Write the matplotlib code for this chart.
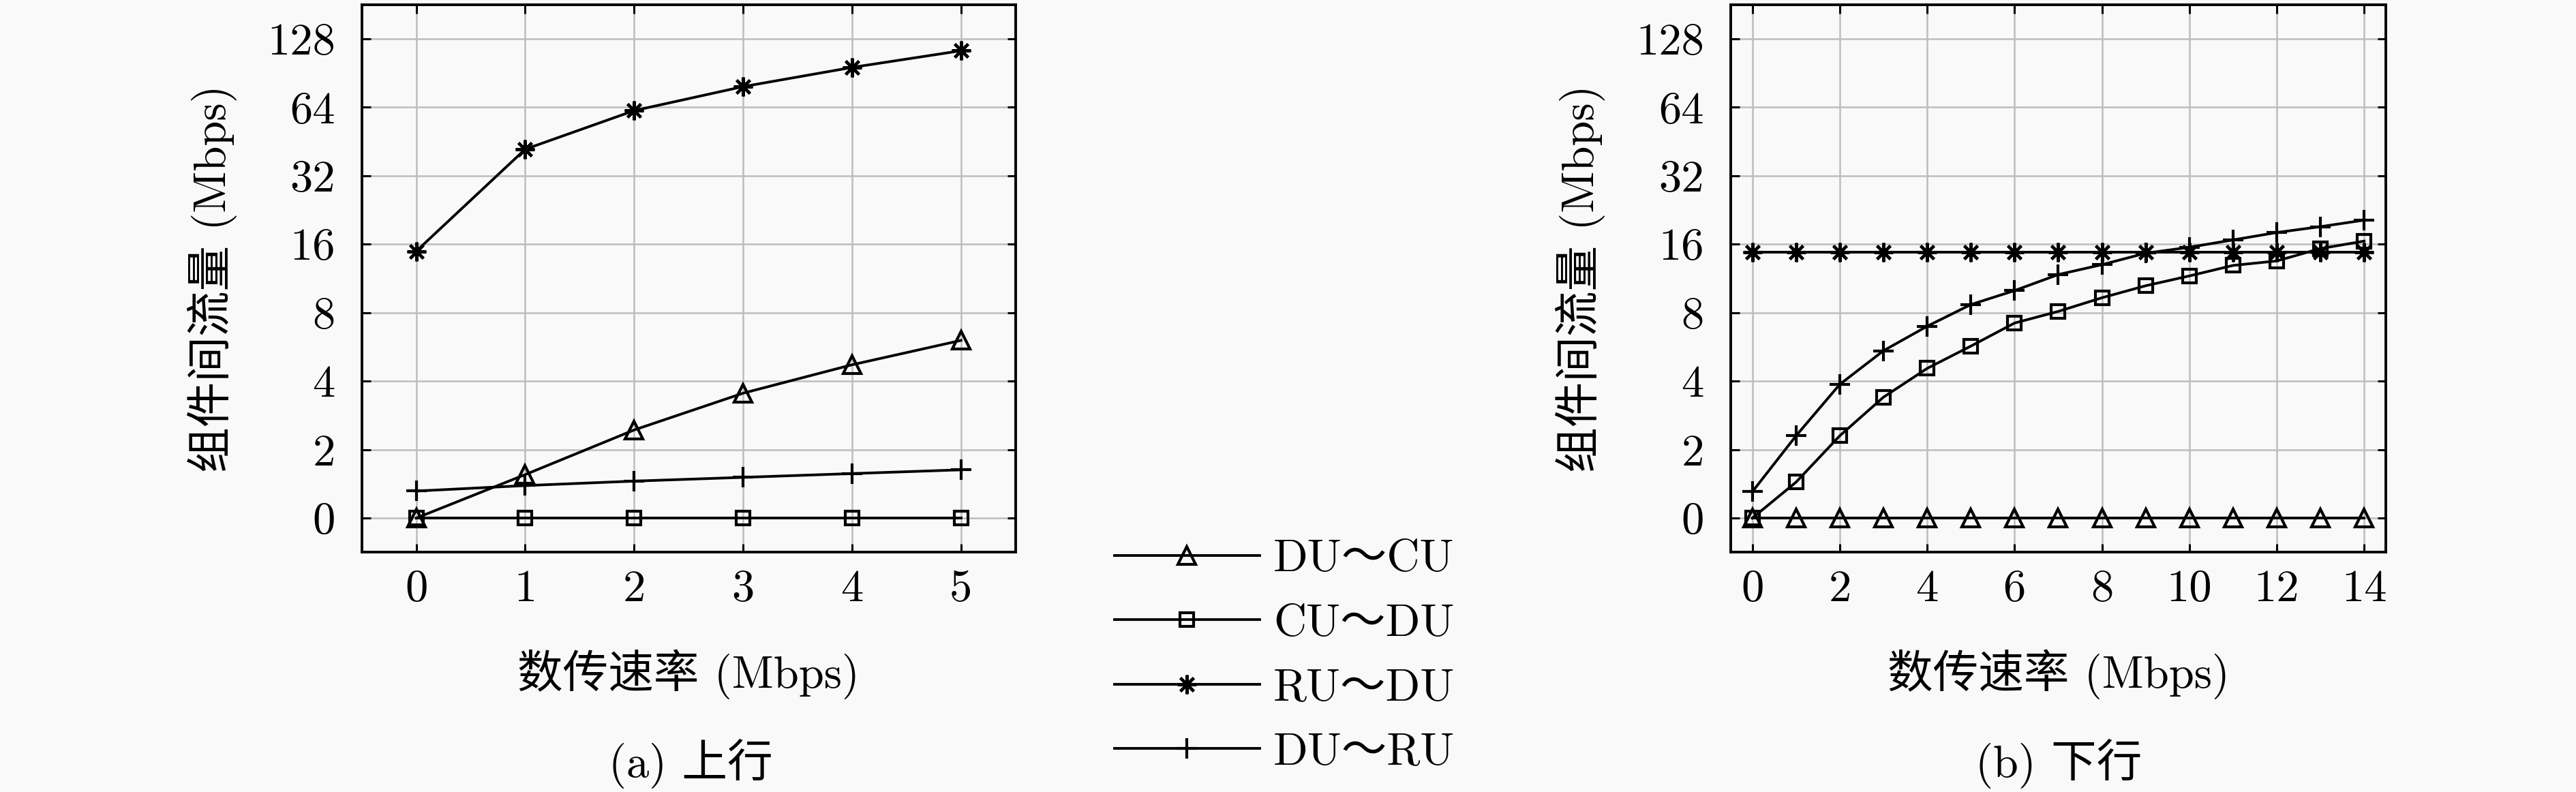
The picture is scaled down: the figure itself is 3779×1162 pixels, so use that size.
import matplotlib
matplotlib.use('Agg')
import matplotlib.pyplot as plt
from matplotlib.ticker import FixedLocator, NullLocator

plt.rcParams['font.family'] = ['cmr10', 'Noto Sans CJK SC', 'DejaVu Sans']
plt.rcParams['axes.formatter.use_mathtext'] = True
plt.rcParams['font.size'] = 48

# datos (Mbps)
x_up = [0, 1, 2, 3, 4, 5]
up_du_cu = [0, 1.27, 2.44, 3.54, 4.72, 6.04]
up_cu_du = [0, 0, 0, 0, 0, 0]
up_ru_du = [14.9, 41.8, 61.8, 78.8, 95.7, 113.3]
up_du_ru = [0.79, 0.95, 1.08, 1.19, 1.30, 1.41]

x_down = [0, 1, 2, 3, 4, 5, 6, 7, 8, 9, 10, 11, 12, 13, 14]
down_du_cu = [0, 0, 0, 0, 0, 0, 0, 0, 0, 0, 0, 0, 0, 0, 0]
down_cu_du = [0, 1.05, 2.3, 3.4, 4.55, 5.7, 7.2, 8.1, 9.3, 10.5, 11.6, 12.9, 13.5, 15.3, 16.5]
down_ru_du = [14.8, 14.8, 14.8, 14.8, 14.8, 14.8, 14.8, 14.8, 14.8, 14.8, 14.8, 14.8, 14.8, 14.8, 14.8]
down_du_ru = [0.77, 2.3, 3.87, 5.44, 6.97, 8.68, 10.0, 11.76, 13.0, 14.6, 15.5, 16.7, 18.0, 19.1, 20.4]

nombres = ['DU～CU', 'CU～DU', 'RU～DU', 'DU～RU']
y_ticks = [0, 2, 4, 8, 16, 32, 64, 128]
y_labels = ['0', '2', '4', '8', '16', '32', '64', '128']
xlabel = '数传速率 (Mbps)'
ylabel = '组件间流量 (Mbps)'

fondo = '#f9f9f9'
estilos = [
    dict(marker='^', ms=19),
    dict(marker='s', ms=15),
    dict(marker=(8, 2, 0), ms=20),
    dict(marker='+', ms=22),
]

fig = plt.figure(figsize=(37.8, 11.62), dpi=100, facecolor=fondo)
ax1 = fig.add_axes([0.1404, 0.3026, 0.2537, 0.6918])
ax2 = fig.add_axes([0.6716, 0.3026, 0.2544, 0.6918])


def dibujar(ax, x, series, xticks, xlim):
    lineas = []
    for datos, est in zip(series, estilos):
        l, = ax.plot(x, datos, color='black', lw=2.8, mfc='none', mec='black',
                     mew=3.0, marker=est['marker'], ms=est['ms'])
        lineas.append(l)
    ax.set_facecolor(fondo)
    ax.set_yscale('symlog', base=2, linthresh=2, linscale=0.5)
    ax.set_ylim(-1, 181.02)
    ax.set_xlim(*xlim)
    ax.yaxis.set_major_locator(FixedLocator(y_ticks))
    ax.yaxis.set_minor_locator(NullLocator())
    ax.set_yticklabels(y_labels)
    ax.set_xticks(xticks)
    ax.set_xticklabels([str(t) for t in xticks])
    ax.grid(True, color='#bdbdbd', lw=1.8)
    ax.set_axisbelow(True)
    for s in ax.spines.values():
        s.set_linewidth(2.8)
    ax.tick_params(direction='in', length=9, width=2.2, top=True, right=True)
    ax.tick_params(axis='x', pad=18)
    ax.tick_params(axis='y', pad=28)
    ax.set_xlabel(xlabel, va='center')
    ax.xaxis.set_label_coords(0.5, -0.222)
    ax.set_ylabel(ylabel, va='center')
    ax.yaxis.set_label_coords(-0.229, 0.5)
    return lineas


lineas = dibujar(ax1, x_up, [up_du_cu, up_cu_du, up_ru_du, up_du_ru],
                 [0, 1, 2, 3, 4, 5], (-0.5, 5.5))
dibujar(ax2, x_down, [down_du_cu, down_cu_du, down_ru_du, down_du_ru],
        [0, 2, 4, 6, 8, 10, 12, 14], (-0.5, 14.5))

fig.text(0.268, 0.0361, '(a) 上行', ha='center', va='center')
fig.text(0.799, 0.0361, '(b) 下行', ha='center', va='center')

fig.legend(lineas, nombres, loc='center', bbox_to_anchor=(0.4985, 0.1713),
           frameon=False, handlelength=3.2, handletextpad=0.3,
           labelspacing=0.52, numpoints=1)

fig.savefig('out.png', dpi=100, facecolor=fondo)
